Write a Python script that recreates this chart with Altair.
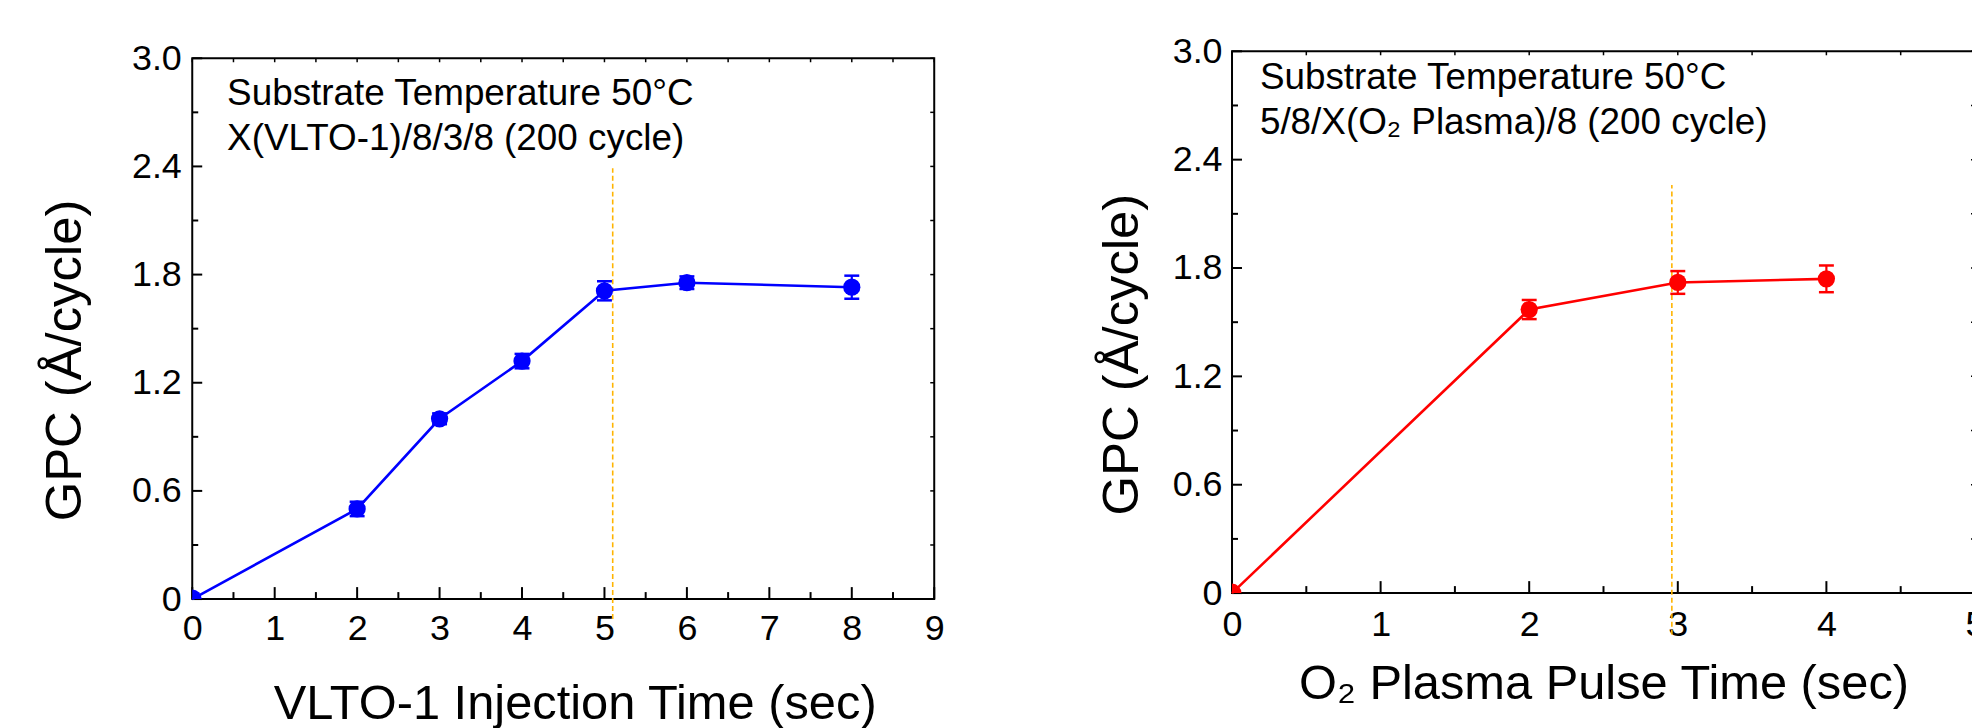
import math
import altair as alt
import pandas as pd

# ---------------- data ----------------
left_t = [0, 2, 3, 4, 5, 6, 8]
left_gpc = [0.0, 0.50, 1.00, 1.32, 1.71, 1.755, 1.73]
left_err = [0.0, 0.04, 0.03, 0.04, 0.053, 0.035, 0.064]

right_t = [0, 2, 3, 4]
right_gpc = [0.0, 1.57, 1.72, 1.74]
right_err = [0.0, 0.053, 0.063, 0.074]

left_x_major = [0, 1, 2, 3, 4, 5, 6, 7, 8, 9]
left_x_minor = [0.5, 1.5, 2.5, 3.5, 4.5, 5.5, 6.5, 7.5, 8.5]
right_x_major = [0, 1, 2, 3, 4, 5]
right_x_minor = [0.5, 1.5, 2.5, 3.5, 4.5]
y_major = [0, 0.6, 1.2, 1.8, 2.4, 3.0]
y_minor = [0.3, 0.9, 1.5, 2.1, 2.7]

left_x_domain = [0, 9]
right_x_domain = [0, 5]
y_domain = [0, 3.0]

left_marker_x = [5.1]
left_marker_y = [-0.11, 2.39]
right_marker_x = [2.96]
right_marker_y = [-0.23, 2.26]

left_note = ["Substrate Temperature 50°C", "X(VLTO-1)/8/3/8 (200 cycle)"]
right_note = ["Substrate Temperature 50°C", "5/8/X(O\u2082 Plasma)/8 (200 cycle)"]

left_xtitle = "VLTO-1 Injection Time (sec)"
right_xtitle = "O\u2082 Plasma Pulse Time (sec)"
ytitle = "GPC (Å/cycle)"

# ---------------- styling / layout ----------------
FONT = "Liberation Sans, Arial, sans-serif"
TFONT = "Liberation Sans, Arial, sans-serif"
W, H = 1787, 550

L = dict(xr=[0, 745], yr=[550, 7])
R = dict(xr=[1044, 1790], yr=[544, 0])


def panel(t, gpc, err, xdom, xmaj, xmin, mk_x, mk_y, notes, color, geo,
          xtitle, x_axis_kw, y_axis_kw, note_xy):
    sx = alt.Scale(domain=xdom, range=geo["xr"], nice=False, zero=False)
    sy = alt.Scale(domain=y_domain, range=geo["yr"], nice=False, zero=False)
    xax = alt.Axis(orient="bottom", values=xmaj, format="d", domain=False,
                   ticks=False, tickSize=0, grid=False, labelFlush=False,
                   labelOverlap=False, labelBaseline="alphabetic",
                   labelFontSize=36, labelFont=FONT, labelColor="black",
                   title=xtitle, titleFont=TFONT, titleFontSize=49,
                   titleFontWeight="normal", titleColor="black",
                   titleBaseline="alphabetic", titleAlign="center",
                   **x_axis_kw)
    yax = alt.Axis(orient="left", values=y_major,
                   labelExpr="datum.value == 0 ? '0' : format(datum.value, '.1f')",
                   domain=False, ticks=False, tickSize=0, grid=False,
                   labelFlush=False, labelOverlap=False,
                   labelFontSize=36, labelFont=FONT, labelColor="black",
                   title=ytitle, titleFont=TFONT, titleFontSize=51,
                   titleFontWeight="normal", titleColor="black",
                   titleAngle=270, titleBaseline="alphabetic",
                   titleAlign="center", **y_axis_kw)

    def X(f):
        return alt.X(f, type="quantitative", scale=sx, axis=xax)

    def Y(f):
        return alt.Y(f, type="quantitative", scale=sy, axis=yax)

    df = pd.DataFrame({"t": t, "gpc": gpc, "err": err})
    base = alt.Chart(df).transform_calculate(
        lo="datum.gpc - datum.err", hi="datum.gpc + datum.err")

    frame = alt.Chart(pd.DataFrame({"x0": [xdom[0]], "x1": [xdom[1]],
                                    "y0": [y_domain[0]], "y1": [y_domain[1]]})
                      ).mark_rect(fillOpacity=0, stroke="black", strokeWidth=2
                      ).encode(x=X("x0"), x2="x1", y=Y("y0"), y2="y1")

    xb, xt = geo["yr"][0], geo["yr"][1]
    yl, yrt = geo["xr"][0], geo["xr"][1]
    layers = [frame]
    for vals, ln in ((xmaj, 12), (xmin, 7)):
        d = pd.DataFrame({"v": vals})
        layers.append(alt.Chart(d).mark_rule(color="black", strokeWidth=2).encode(
            x=X("v"), y=alt.value(xb), y2=alt.value(xb - ln)))
        layers.append(alt.Chart(d).mark_rule(color="black", strokeWidth=1.5).encode(
            x=X("v"), y=alt.value(xt), y2=alt.value(xt + 4)))
    for vals, ln in ((y_major, 10), (y_minor, 6)):
        d = pd.DataFrame({"v": vals})
        layers.append(alt.Chart(d).mark_rule(color="black", strokeWidth=2).encode(
            y=Y("v"), x=alt.value(yl), x2=alt.value(yl + ln)))
        layers.append(alt.Chart(d).mark_rule(color="black", strokeWidth=1.5).encode(
            y=Y("v"), x=alt.value(yrt), x2=alt.value(yrt - 4)))

    mk = pd.DataFrame({"x": mk_x, "y0": [mk_y[0]], "y1": [mk_y[1]]})
    layers.append(alt.Chart(mk).mark_rule(color="#FFB400", strokeWidth=1.6,
                                          strokeDash=[5, 3]).encode(
        x=X("x"), y=Y("y0"), y2="y1"))

    layers.append(base.mark_line(color=color, strokeWidth=2.6).encode(
        x=X("t"), y=Y("gpc")))
    eb = base.transform_filter("datum.err > 0")
    layers.append(eb.mark_rule(color=color, strokeWidth=2.2).encode(
        x=X("t"), y=Y("lo"), y2="hi"))
    layers.append(eb.mark_tick(color=color, orient="horizontal", size=15,
                               thickness=2.5, opacity=1).encode(x=X("t"), y=Y("lo")))
    layers.append(eb.mark_tick(color=color, orient="horizontal", size=15,
                               thickness=2.5, opacity=1).encode(x=X("t"), y=Y("hi")))
    layers.append(base.transform_filter("datum.t > 0").mark_circle(
        color=color, size=300, opacity=1).encode(x=X("t"), y=Y("gpc")))
    layers.append(base.transform_filter("datum.t == 0").mark_arc(
        color=color, radius=9.5, theta=0, theta2=math.pi / 2).encode(
        x=X("t"), y=Y("gpc")))

    one = pd.DataFrame({"a": [0]})
    for i, line in enumerate(notes):
        layers.append(alt.Chart(one).mark_text(
            align="left", baseline="alphabetic", font=FONT, fontSize=37,
            color="black").encode(
            x=alt.value(note_xy[0]), y=alt.value(note_xy[1] + 45 * i),
            text=alt.value(line)))
    return alt.layer(*layers)


left = panel(left_t, left_gpc, left_err, left_x_domain, left_x_major,
             left_x_minor, left_marker_x, left_marker_y, left_note, "#0000FF",
             L, left_xtitle,
             dict(labelPadding=41, titleX=384, titleY=120),
             dict(labelPadding=11, titleX=-112, titleY=310),
             (35, 54))
right = panel(right_t, right_gpc, right_err, right_x_domain, right_x_major,
              right_x_minor, right_marker_x, right_marker_y, right_note,
              "#FF0000", R, right_xtitle,
              dict(labelPadding=43, offset=-6, titleX=1417, titleY=106),
              dict(labelPadding=10, offset=-1044, titleX=-95, titleY=304),
              (1072, 38))

chart = alt.layer(left, right).resolve_scale(
    x="independent", y="independent"
).properties(
    width=W, height=H,
    padding={"left": 185, "top": 42, "right": 0, "bottom": 128},
    autosize=alt.AutoSizeParams(type="none"),
    background="white",
).configure_view(strokeWidth=0)

chart.save("out.html", embed_options={"renderer": "svg", "actions": False})
